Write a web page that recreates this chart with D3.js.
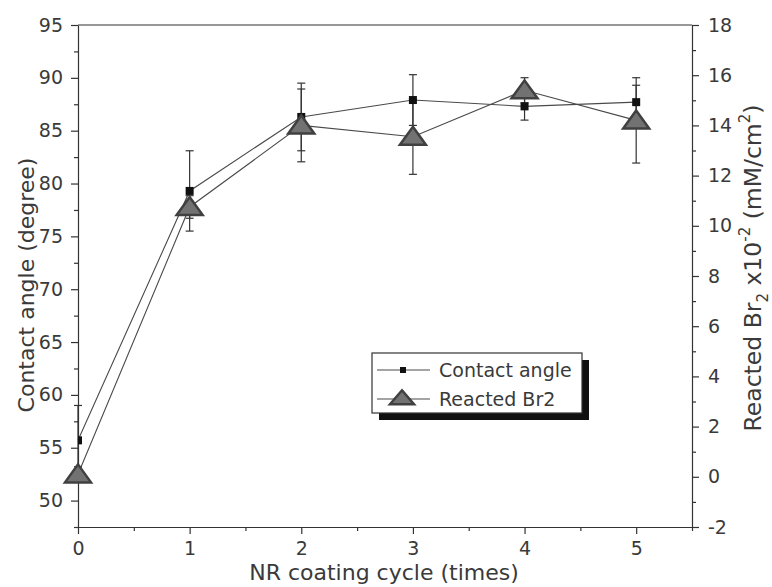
<!DOCTYPE html>
<html>
<head>
<meta charset="utf-8">
<script src="https://cdn.jsdelivr.net/npm/d3@7"></script>
<style>
  body { margin: 0; background: #fff; }
  svg text { font-family: "DejaVu Sans", sans-serif; fill: #3a3a3a; }
</style>
</head>
<body>
<svg id="chart" width="772" height="587"></svg>
<script>
// values
const cycles = [0, 1, 2, 3, 4, 5];
const contactAngle = [55.7, 79.3, 86.3, 87.9, 87.3, 87.7];
const contactErr = [3.3, 3.8, 3.2, 2.4, 1.3, 1.6];
const reactedBr2 = [0.1, 10.75, 14.0, 13.55, 15.4, 14.2];
const reactedErr = [0.3, 0.45, 1.45, 1.5, 0.5, 1.7];

const xTicks = [0, 1, 2, 3, 4, 5];
const xMinor = [0.5, 1.5, 2.5, 3.5, 4.5, 5.5];
const leftTicks = [50, 55, 60, 65, 70, 75, 80, 85, 90, 95];
const leftMinor = [47.5, 52.5, 57.5, 62.5, 67.5, 72.5, 77.5, 82.5, 87.5, 92.5];
const rightTicks = [-2, 0, 2, 4, 6, 8, 10, 12, 14, 16, 18];
const rightMinor = [-1, 1, 3, 5, 7, 9, 11, 13, 15, 17];

const legendNames = ["Contact angle", "Reacted Br2"];

const svg = d3.select("#chart");
const plotLeft = 78, plotRight = 692, plotTop = 25, plotBottom = 527;
const axisColor = "#333";

const x = d3.scaleLinear().domain([0, 5.5]).range([plotLeft, plotRight]);
const yL = d3.scaleLinear().domain([47.5, 95]).range([plotBottom, plotTop]);
const yR = d3.scaleLinear().domain([-2, 18]).range([plotBottom, plotTop]);

svg.append("defs").append("clipPath").attr("id", "plotClip")
  .append("rect")
  .attr("x", plotLeft).attr("y", plotTop)
  .attr("width", plotRight - plotLeft).attr("height", plotBottom - plotTop);

// frame top line
svg.append("line")
  .attr("x1", plotLeft).attr("x2", plotRight).attr("y1", plotTop).attr("y2", plotTop)
  .attr("stroke", axisColor).attr("stroke-width", 1.2);

function styleAxis(g) {
  g.selectAll("path, line").attr("stroke", axisColor).attr("stroke-width", 1.2);
  g.selectAll("text").style("font-size", "19px").attr("fill", "#3a3a3a");
}

// bottom axis
svg.append("g").attr("transform", `translate(0,${plotBottom})`)
  .call(d3.axisBottom(x).tickValues(xMinor).tickSize(4).tickSizeOuter(0).tickFormat(""))
  .call(g => g.select(".domain").remove())
  .call(styleAxis);
svg.append("g").attr("transform", `translate(0,${plotBottom})`)
  .call(d3.axisBottom(x).tickValues(xTicks).tickSize(7).tickSizeOuter(0).tickPadding(8).tickFormat(d => d))
  .call(styleAxis);

// left axis
svg.append("g").attr("transform", `translate(${plotLeft},0)`)
  .call(d3.axisLeft(yL).tickValues(leftMinor).tickSize(4).tickSizeOuter(0).tickFormat(""))
  .call(g => g.select(".domain").remove())
  .call(styleAxis);
svg.append("g").attr("transform", `translate(${plotLeft},0)`)
  .call(d3.axisLeft(yL).tickValues(leftTicks).tickSize(7).tickSizeOuter(0).tickPadding(8).tickFormat(d => d))
  .call(styleAxis);

// right axis
svg.append("g").attr("transform", `translate(${plotRight},0)`)
  .call(d3.axisRight(yR).tickValues(rightMinor).tickSize(4).tickSizeOuter(0).tickFormat(""))
  .call(g => g.select(".domain").remove())
  .call(styleAxis);
svg.append("g").attr("transform", `translate(${plotRight},0)`)
  .call(d3.axisRight(yR).tickValues(rightTicks).tickSize(7).tickSizeOuter(0).tickPadding(9).tickFormat(d => String(d)))
  .call(styleAxis);

// axis titles
svg.append("text")
  .attr("x", 384).attr("y", 580)
  .attr("text-anchor", "middle")
  .style("font-size", "22px")
  .text("NR coating cycle (times)");

svg.append("text")
  .attr("transform", "translate(34,285) rotate(-90)")
  .attr("text-anchor", "middle")
  .style("font-size", "22px")
  .text("Contact angle (degree)");

const rt = svg.append("text")
  .attr("transform", "translate(761,268) rotate(-90)")
  .attr("text-anchor", "middle")
  .style("font-size", "23.5px");
rt.append("tspan").text("Reacted Br");
rt.append("tspan").attr("dy", 7).style("font-size", "15px").text("2");
rt.append("tspan").attr("dy", -7).text(" x10");
rt.append("tspan").attr("dy", -11).style("font-size", "15px").text("-2");
rt.append("tspan").attr("dy", 11).text(" (mM/cm");
rt.append("tspan").attr("dy", -11).style("font-size", "15px").text("2");
rt.append("tspan").attr("dy", 11).text(")");

const lineColor = "#4a4a4a";

// connecting lines
const lineL = d3.line().x((d, i) => x(cycles[i])).y(d => yL(d));
const lineR = d3.line().x((d, i) => x(cycles[i])).y(d => yR(d));

svg.append("path").datum(contactAngle)
  .attr("d", lineL).attr("fill", "none")
  .attr("stroke", lineColor).attr("stroke-width", 1.1);
svg.append("path").datum(reactedBr2)
  .attr("d", lineR).attr("fill", "none")
  .attr("stroke", lineColor).attr("stroke-width", 1.1);

// error bars
function errorBars(vals, errs, y) {
  const g = svg.append("g").attr("stroke", "#333").attr("stroke-width", 1.2);
  vals.forEach((v, i) => {
    const cx = x(cycles[i]);
    const y1 = y(v - errs[i]), y2 = y(v + errs[i]);
    g.append("line").attr("x1", cx).attr("x2", cx).attr("y1", y1).attr("y2", y2);
    g.append("line").attr("x1", cx - 4).attr("x2", cx + 4).attr("y1", y1).attr("y2", y1);
    g.append("line").attr("x1", cx - 4).attr("x2", cx + 4).attr("y1", y2).attr("y2", y2);
  });
}
errorBars(contactAngle, contactErr, yL);
errorBars(reactedBr2, reactedErr, yR);

// square markers
svg.append("g").attr("clip-path", "url(#plotClip)")
  .selectAll("rect").data(contactAngle).join("rect")
  .attr("x", (d, i) => x(cycles[i]) - 4)
  .attr("y", d => yL(d) - 4)
  .attr("width", 8).attr("height", 8)
  .attr("fill", "#111");

// triangle markers
function triPath(cx, cy, w, h) {
  return `M${cx},${cy - h * 0.55}L${cx + w / 2},${cy + h * 0.45}L${cx - w / 2},${cy + h * 0.45}Z`;
}
svg.append("g").selectAll("path").data(reactedBr2).join("path")
  .attr("d", (d, i) => triPath(x(cycles[i]), yR(d), 26, 18))
  .attr("fill", "#727272")
  .attr("stroke", "#404040")
  .attr("stroke-width", 2.5)
  .attr("stroke-linejoin", "miter");

// legend
const lg = svg.append("g");
lg.append("rect").attr("x", 379).attr("y", 360).attr("width", 210).attr("height", 60).attr("fill", "#111");
lg.append("rect").attr("x", 372).attr("y", 353).attr("width", 210).attr("height", 60)
  .attr("fill", "#fff").attr("stroke", "#333").attr("stroke-width", 1.2);

const rowY = [370, 399];
legendNames.forEach((name, i) => {
  lg.append("line").attr("x1", 377).attr("x2", 430).attr("y1", rowY[i]).attr("y2", rowY[i])
    .attr("stroke", lineColor).attr("stroke-width", 1.1);
  lg.append("text").attr("x", 439).attr("y", rowY[i] + 7)
    .style("font-size", "19px").text(name);
});
lg.append("rect").attr("x", 400).attr("y", rowY[0] - 3).attr("width", 6).attr("height", 6).attr("fill", "#111");
lg.append("path").attr("d", triPath(402, rowY[1] - 1, 24, 14))
  .attr("fill", "#727272").attr("stroke", "#404040").attr("stroke-width", 2.5);
</script>
</body>
</html>
